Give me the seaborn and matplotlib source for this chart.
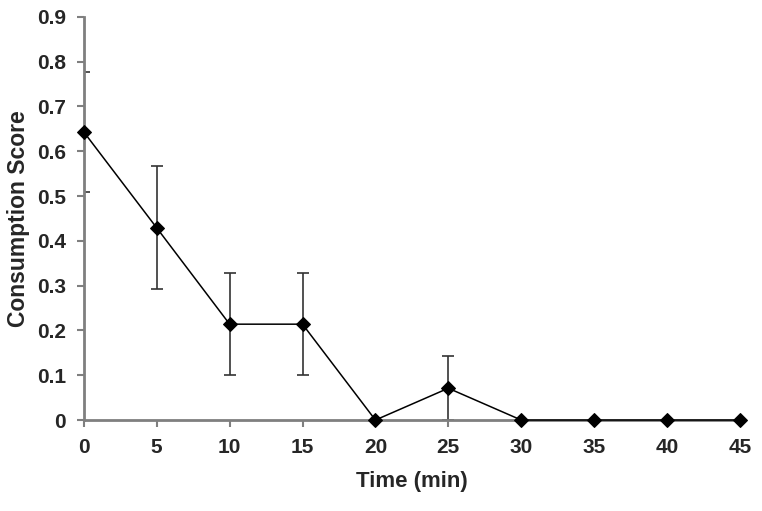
import numpy as np
import pandas as pd
from matplotlib import pyplot as plt
import seaborn as sns

# values
time_min = [0, 5, 10, 15, 20, 25, 30, 35, 40, 45]
score = [0.643, 0.429, 0.214, 0.214, 0.0, 0.071, 0.0, 0.0, 0.0, 0.0]
score_err = [0.134, 0.137, 0.114, 0.114, 0.0, 0.072, 0.0, 0.0, 0.0, 0.0]
y_ticks = [0, 0.1, 0.2, 0.3, 0.4, 0.5, 0.6, 0.7, 0.8, 0.9]
y_tick_labels = ['0', '0.1', '0.2', '0.3', '0.4', '0.5', '0.6', '0.7', '0.8', '0.9']
x_ticks = [0, 5, 10, 15, 20, 25, 30, 35, 40, 45]

df = pd.DataFrame({'time': time_min, 'score': score, 'err': score_err})

sns.set_style('white')
plt.rcParams['font.family'] = ['Liberation Sans', 'DejaVu Sans']

fig = plt.figure(figsize=(7.62, 5.11), dpi=100)
ax = fig.add_axes([0.110, 0.178, 0.861, 0.789])

# error bars only where there is spread
has_err = df[df['err'] > 0]
ax.errorbar(has_err['time'], has_err['score'], yerr=has_err['err'],
            fmt='none', ecolor='#333333', elinewidth=1.2, capsize=4,
            capthick=1.2, zorder=2)

sns.lineplot(data=df, x='time', y='score', ax=ax, color='black',
             linewidth=1.1, marker='D', markersize=7, markeredgecolor='black',
             zorder=3, clip_on=False)

ax.set_xlim(0, 45)
ax.set_ylim(0, 0.9)
ax.set_xticks(x_ticks)
ax.set_yticks(y_ticks)
ax.set_yticklabels(y_tick_labels)

for lab in ax.get_xticklabels() + ax.get_yticklabels():
    lab.set_fontweight('bold')
    lab.set_fontsize(15)

ax.set_xlabel('Time (min)', fontsize=16, fontweight='bold', labelpad=10)
ax.set_ylabel('Consumption Score', fontsize=16.5, fontweight='bold', labelpad=5)

sns.despine(ax=ax)
for side in ['left', 'bottom']:
    ax.spines[side].set_color('#7f7f7f')
    ax.spines[side].set_linewidth(2)
ax.tick_params(axis='both', direction='out', length=5, width=1.5,
               color='#7f7f7f', pad=8, bottom=True, left=True)

fig.savefig('out.png', dpi=100)
